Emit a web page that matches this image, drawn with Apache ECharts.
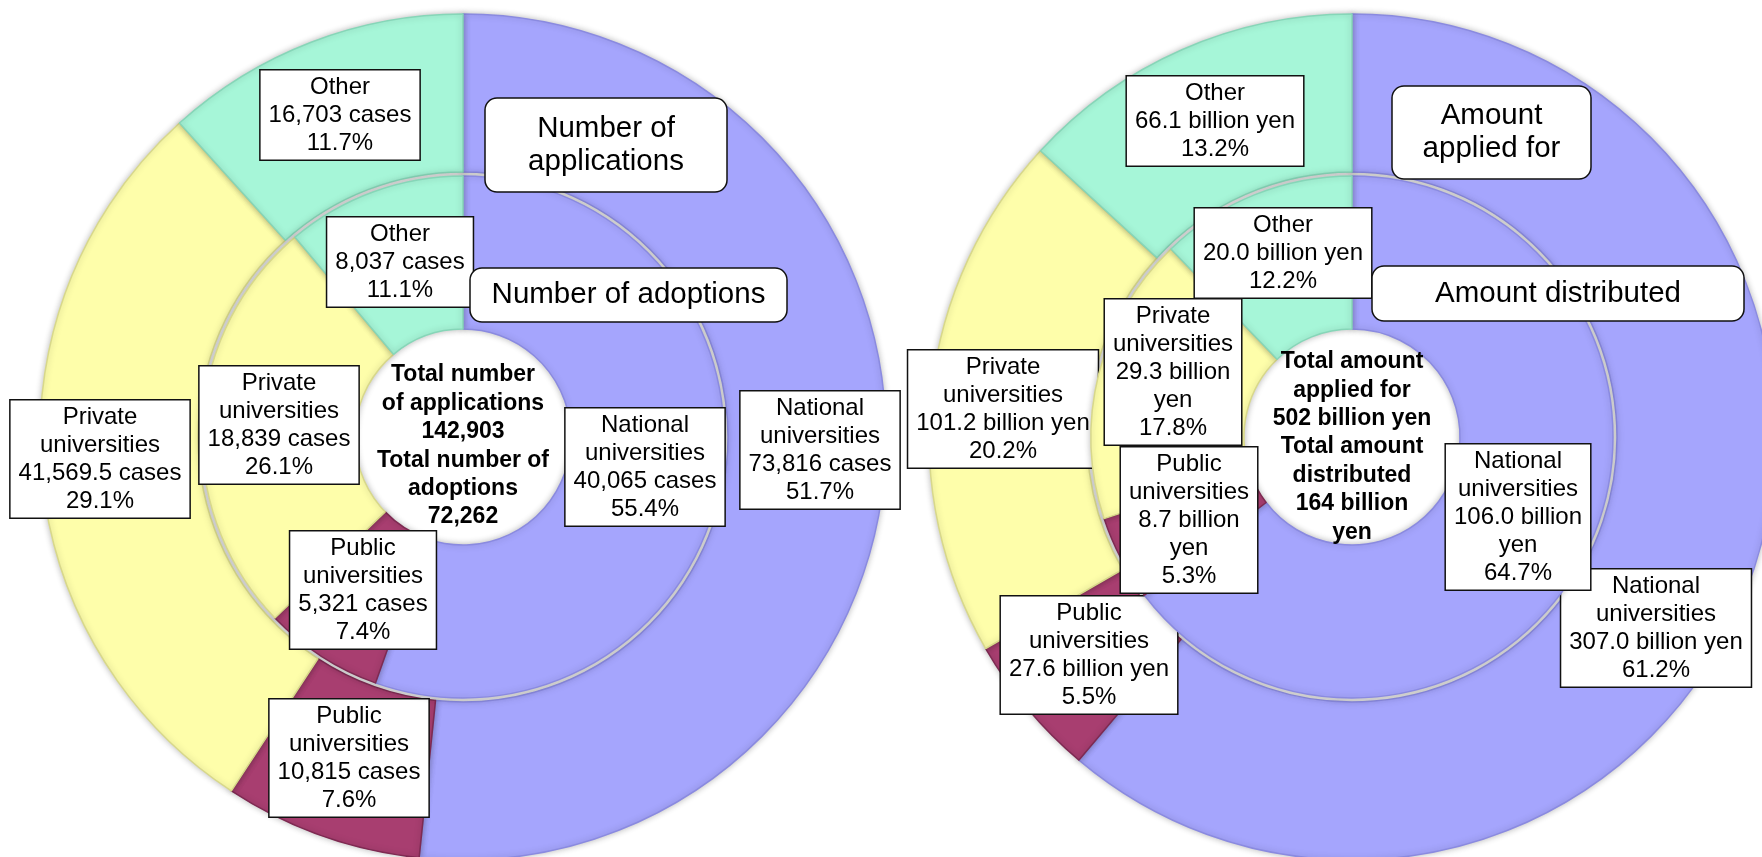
<!DOCTYPE html>
<html>
<head>
<meta charset="utf-8">
<script src="https://cdn.jsdelivr.net/npm/echarts@6/dist/echarts.min.js"></script>
<style>
html,body{margin:0;padding:0;background:#fff;}
#chart{width:1762px;height:857px;}
</style>
</head>
<body>
<div id="chart"></div>
<script>
// ---- data ----
const categories = ['National universities', 'Public universities', 'Private universities', 'Other'];
const categoryLabels = ['National\nuniversities', 'Public\nuniversities', 'Private\nuniversities', 'Other'];
const applicationsCases = [73816, 10815, 41569.5, 16703];
const applicationsPct = [51.7, 7.6, 29.1, 11.7];
const adoptionsCases = [40065, 5321, 18839, 8037];
const adoptionsPct = [55.4, 7.4, 26.1, 11.1];
const amountApplied = [307.0, 27.6, 101.2, 66.1];
const amountAppliedPct = [61.2, 5.5, 20.2, 13.2];
const amountDistributed = [106.0, 8.7, 29.3, 20.0];
const amountDistributedPct = [64.7, 5.3, 17.8, 12.2];
const totalApplications = 142903;
const totalAdoptions = 72262;
const totalAmountApplied = 502;
const totalAmountDistributed = 164;
const ringTitles = ['Number of\napplications', 'Number of adoptions', 'Amount\napplied for', 'Amount distributed'];

// ---- styling / layout ----
const colors = ['#a5a5fd', '#a83e70', '#fefeaa', '#a6f6d8'];
const borderColors = ['#8a8ae0', '#7e2a52', '#d8d88a', '#86d6b8'];
const FONT = '"Liberation Sans", Arial, sans-serif';

const fmtCases = v => v.toLocaleString('en-US') + ' cases';
const fmtYen = (v, wrap) => v.toFixed(1) + (wrap ? ' billion\nyen' : ' billion yen');

const layouts = {
  appOuter: [[820, 450], [349, 758], [100, 459], [340, 115]],
  appInner: [[645, 467], [363, 590], [279, 425], [400, 262]],
  amtOuter: [[1656, 628], [1089, 655], [1003, 409], [1215, 121]],
  amtInner: [[1518, 517], [1189, 520], [1173, 372], [1283, 253]]
};
const innerWrap = [true, true, true, false];

function buildData(values, pcts, fmt) {
  return values.map((v, i) => ({
    name: categories[i],
    value: v,
    itemStyle: { color: colors[i], borderColor: borderColors[i] },
    label: { formatter: categoryLabels[i] + '\n' + fmt(v, i) + '\n' + pcts[i].toFixed(1) + '%' }
  }));
}

const labelStyle = {
  show: true,
  position: 'inside',
  color: '#000',
  fontFamily: FONT,
  fontSize: 24,
  lineHeight: 28,
  backgroundColor: '#fff',
  borderColor: '#111',
  borderWidth: 1.5,
  padding: [3, 8, 2, 8],
  align: 'center'
};

function pieSeries(center, radius, data, layout, z) {
  return {
    type: 'pie',
    center: center,
    radius: radius,
    startAngle: 90,
    clockwise: true,
    avoidLabelOverlap: false,
    silent: true,
    z: z,
    data: data,
    label: labelStyle,
    labelLine: { show: false },
    itemStyle: {
      borderWidth: 1.5,
      shadowBlur: 6,
      shadowColor: 'rgba(0,0,0,0.25)'
    },
    emphasis: { disabled: true },
    labelLayout: function (params) {
      const p = layout[params.dataIndex];
      return { x: p[0], y: p[1], align: 'center', verticalAlign: 'middle' };
    }
  };
}

const leftCenter = [463, 437];
const rightCenter = [1352, 437];
const outerR = [265, 423];
const innerR = [108, 261];

const series = [
  pieSeries(leftCenter, outerR, buildData(applicationsCases, applicationsPct, v => fmtCases(v)), layouts.appOuter, 2),
  pieSeries(leftCenter, innerR, buildData(adoptionsCases, adoptionsPct, v => fmtCases(v)), layouts.appInner, 3),
  pieSeries(rightCenter, outerR, buildData(amountApplied, amountAppliedPct, v => fmtYen(v, false)), layouts.amtOuter, 2),
  pieSeries(rightCenter, innerR, buildData(amountDistributed, amountDistributedPct, (v, i) => fmtYen(v, innerWrap[i])), layouts.amtInner, 3)
];

function titleBox(x, y, w, h, text) {
  return [
    { type: 'rect', z: 100, x: x, y: y, shape: { x: 0, y: 0, width: w, height: h, r: 12 },
      style: { fill: '#fff', stroke: '#111', lineWidth: 1.5 } },
    { type: 'text', z: 101, x: x + w / 2, y: y + h / 2,
      style: { text: text, fill: '#000', font: '29.5px ' + FONT, lineHeight: 33,
               align: 'center', verticalAlign: 'middle' } }
  ];
}

function centerText(x, y, text) {
  return {
    type: 'text', x: x, y: y, z: 100,
    style: { text: text, fill: '#000', font: 'bold 23px ' + FONT, lineHeight: 28.4,
             align: 'center', verticalAlign: 'middle' }
  };
}

const option = {
  backgroundColor: '#fff',
  animation: false,
  series: series,
  graphic: [].concat(
    titleBox(485, 98, 242, 94, ringTitles[0]),
    titleBox(470, 268, 317, 54, ringTitles[1]),
    titleBox(1392, 86, 199, 93, ringTitles[2]),
    titleBox(1372, 266, 372, 55, ringTitles[3]),
    [
      centerText(463, 446, 'Total number\nof applications\n' + totalApplications.toLocaleString('en-US') +
        '\nTotal number of\nadoptions\n' + totalAdoptions.toLocaleString('en-US')),
      centerText(1352, 447, 'Total amount\napplied for\n' + totalAmountApplied + ' billion yen' +
        '\nTotal amount\ndistributed\n' + totalAmountDistributed + ' billion\nyen')
    ]
  )
};

const chart = echarts.init(document.getElementById('chart'), null, { renderer: 'canvas' });
chart.setOption(option);
</script>
</body>
</html>
